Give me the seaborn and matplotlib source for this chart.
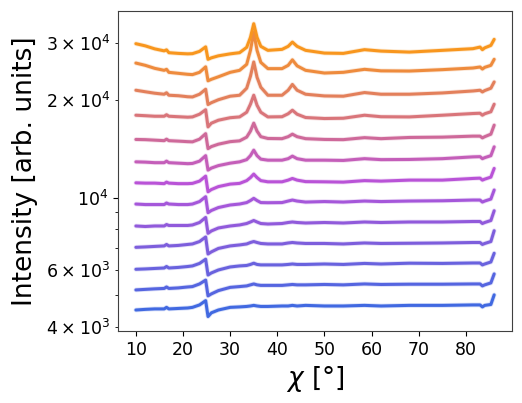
import numpy as np
import pandas as pd
import seaborn as sns
import matplotlib.pyplot as plt
from matplotlib.ticker import FuncFormatter

# chi positions shared by all scans (degrees)
chi = [10, 12, 14, 16, 16.5, 17, 19, 21, 22, 23.5, 24.8, 25.3, 26, 27.5, 30, 32,
       33.5, 34.3, 35, 35.7, 36.5, 38, 41, 42.3, 43.2, 44.2, 46, 50, 54, 58.5,
       62, 68, 75, 81.5, 83, 83.5, 84, 85.3, 86]

# intensities, bottom (blue) to top (orange)
scan_00 = [4500, 4520, 4535, 4535, 4585, 4535, 4550, 4565, 4585, 4665, 4810, 4295, 4410, 4500,
           4585, 4600, 4615, 4630, 4650, 4630, 4615, 4615, 4630, 4630, 4650, 4630, 4650, 4630,
           4630, 4650, 4630, 4650, 4650, 4665, 4665, 4600, 4650, 4680, 5010]
scan_01 = [5190, 5210, 5230, 5245, 5300, 5245, 5265, 5300, 5315, 5415, 5565, 4975, 5045, 5165,
           5285, 5315, 5340, 5380, 5415, 5380, 5360, 5360, 5360, 5380, 5395, 5380, 5380, 5395,
           5380, 5415, 5395, 5405, 5405, 5415, 5415, 5340, 5380, 5455, 5815]
scan_02 = [6010, 6025, 6045, 6065, 6130, 6065, 6090, 6130, 6155, 6265, 6455, 5770, 5855, 5980,
           6110, 6155, 6175, 6220, 6275, 6220, 6200, 6200, 6200, 6220, 6240, 6220, 6220, 6240,
           6220, 6265, 6240, 6275, 6265, 6285, 6285, 6200, 6240, 6330, 6735]
scan_03 = [7025, 7045, 7070, 7095, 7170, 7095, 7120, 7170, 7195, 7320, 7560, 6700, 6800, 6970,
           7095, 7145, 7195, 7270, 7320, 7270, 7220, 7195, 7195, 7245, 7270, 7245, 7220, 7220,
           7195, 7245, 7220, 7230, 7245, 7270, 7270, 7170, 7220, 7320, 7905]
scan_04 = [8175, 8145, 8175, 8175, 8260, 8205, 8205, 8205, 8235, 8380, 8685, 7760, 7890, 8060,
           8175, 8235, 8320, 8410, 8500, 8410, 8320, 8290, 8320, 8380, 8410, 8380, 8350, 8380,
           8350, 8410, 8380, 8410, 8410, 8440, 8440, 8320, 8380, 8500, 9110]
scan_05 = [9555, 9520, 9520, 9520, 9625, 9555, 9520, 9520, 9555, 9725, 10065, 8985, 9125, 9320,
           9490, 9555, 9655, 9795, 9950, 9795, 9655, 9645, 9655, 9760, 9830, 9760, 9690, 9725,
           9690, 9760, 9725, 9760, 9780, 9830, 9830, 9690, 9760, 9900, 10555]
scan_06 = [11110, 11085, 11085, 11045, 11165, 11085, 11045, 11045, 11065, 11245, 11650, 10425,
           10590, 10815, 11010, 11065, 11285, 11530, 11820, 11530, 11285, 11190, 11190, 11325,
           11460, 11325, 11205, 11190, 11165, 11285, 11245, 11325, 11325, 11460, 11485, 11325,
           11405, 11570, 12305]
scan_07 = [12895, 12870, 12820, 12820, 12960, 12820, 12775, 12730, 12750, 12960, 13475, 12160,
           12335, 12555, 12775, 12895, 13100, 13475, 14010, 13475, 13145, 13050, 13050, 13190,
           13430, 13190, 13050, 13050, 13025, 13190, 13100, 13115, 13190, 13360, 13380, 13190,
           13285, 13475, 14345]
scan_08 = [15120, 15100, 15045, 14990, 15150, 14990, 14940, 14885, 14865, 15150, 15755, 14165,
           14370, 14620, 14885, 14970, 15370, 16040, 16975, 16040, 15420, 15225, 15205, 15420,
           15700, 15420, 15205, 15120, 15100, 15315, 15205, 15335, 15370, 15480, 15480, 15290,
           15420, 15700, 16735]
scan_09 = [17960, 17900, 17830, 17830, 18025, 17830, 17770, 17710, 17745, 18090, 18675, 16530,
           16970, 17335, 17645, 17745, 18345, 19420, 20700, 19280, 18345, 17745, 17770, 18150,
           18610, 18090, 17670, 17545, 17580, 17960, 17770, 17745, 17960, 18180, 18215, 17960,
           18150, 18410, 19420]
scan_10 = [21450, 21220, 21000, 20850, 21070, 20700, 20630, 20480, 20450, 20850, 21600, 19380,
           19630, 20050, 20560, 20700, 21760, 23690, 26220, 23520, 21910, 20700, 20700, 21450,
           22350, 21450, 20850, 20600, 20560, 21100, 20850, 20850, 21040, 21340, 21450, 21190,
           21400, 21760, 22750]
scan_11 = [26020, 25600, 25060, 24710, 24885, 24360, 24190, 24020, 23970, 24360, 25330, 22940,
           23180, 23600, 24360, 24710, 25780, 28480, 32350, 28480, 26150, 25010, 25010, 25600,
           26620, 25510, 24710, 24240, 24360, 24885, 24620, 24585, 24830, 25120, 25300, 24940,
           25240, 25600, 26720]
scan_12 = [29860, 29400, 28780, 28375, 28580, 28010, 27870, 27780, 27820, 28270, 29190, 26720,
           27000, 27390, 27780, 28010, 29090, 31230, 34410, 31230, 29300, 28480, 28680, 29300,
           30200, 29300, 28480, 27930, 27870, 28620, 28330, 28130, 28480, 28820, 29150, 28620,
           28990, 29500, 30790]

scans = [scan_00, scan_01, scan_02, scan_03, scan_04, scan_05, scan_06,
         scan_07, scan_08, scan_09, scan_10, scan_11, scan_12]

rows = []
for k, vals in enumerate(scans):
    for x, v in zip(chi, vals):
        rows.append(("s%02d" % k, x, v))
df = pd.DataFrame(rows, columns=["scan", "chi", "intensity"])

sns.set_style("ticks", rc={"xtick.color": "black", "ytick.color": "black",
                           "text.color": "black", "axes.labelcolor": "black"})
palette = sns.blend_palette(["#4169e1", "#b953d8", "#f8961e"], n_colors=len(scans))

fig = plt.figure(figsize=(5.22, 4.03), dpi=100)
ax = fig.add_axes([0.226, 0.179, 0.755, 0.794])

# faint halo under each line, then the line itself
sns.lineplot(data=df, x="chi", y="intensity", hue="scan", palette=palette,
             lw=3.4, alpha=0.2, legend=False, ax=ax)
sns.lineplot(data=df, x="chi", y="intensity", hue="scan", palette=palette,
             lw=2.2, legend=False, ax=ax)

ax.set_yscale("log")
ax.set_xlim(6.2, 89.8)
ax.set_ylim(3880, 37700)
ax.set_xticks([10, 20, 30, 40, 50, 60, 70, 80])


def sci_label(v, pos):
    e = int(np.floor(np.log10(v) + 1e-9))
    m = int(round(v / 10 ** e))
    if m == 1:
        return r"$\mathdefault{10^{%d}}$" % e
    if m in (2, 3, 4, 6):
        return r"$\mathdefault{%d\:\times\:10^{%d}}$" % (m, e)
    return ""


ax.yaxis.set_major_formatter(FuncFormatter(sci_label))
ax.yaxis.set_minor_formatter(FuncFormatter(sci_label))
ax.tick_params(axis="both", which="both", labelsize=12.5)
ax.set_xlabel(r"$\chi$ [°]", fontsize=19)
ax.set_ylabel("Intensity [arb. units]", fontsize=19, labelpad=6)
for s in ax.spines.values():
    s.set_color("#404040")

fig.savefig("out.png", dpi=100)
